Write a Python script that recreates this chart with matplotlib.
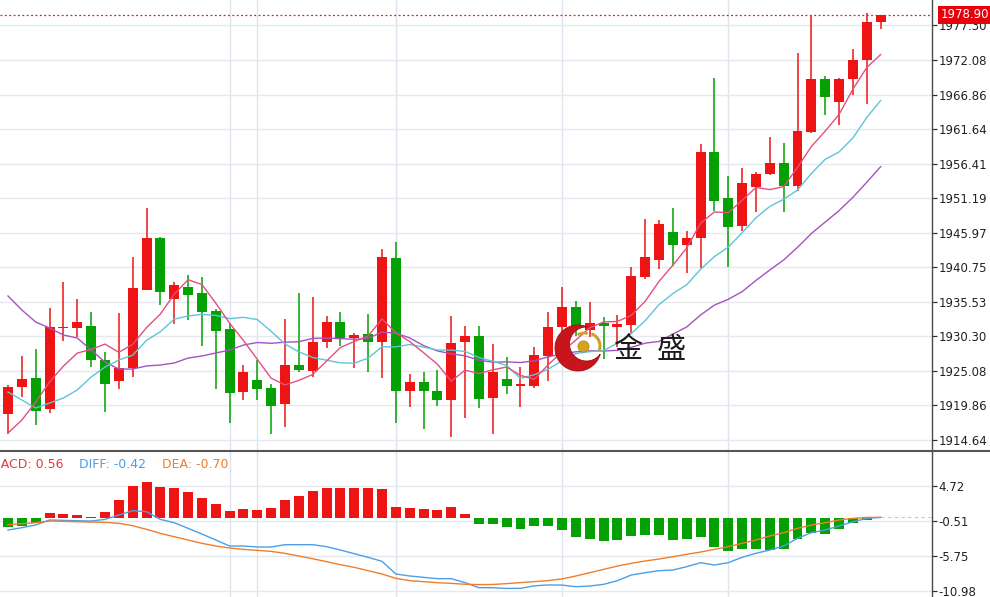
import numpy as np
import pandas as pd
import matplotlib
matplotlib.use("Agg")
import matplotlib.pyplot as plt
from matplotlib.patches import Polygon, Circle, Arc
from matplotlib.transforms import blended_transform_factory

# ---------------- data ----------------
open_ = [1918.57, 1922.70, 1924.06, 1919.33, 1931.52, 1931.57, 1931.92, 1926.69, 1923.51, 1925.57,
         1937.36, 1945.17, 1936.00, 1937.77, 1936.86, 1934.14, 1931.37, 1921.90, 1923.71, 1922.45,
         1920.04, 1926.02, 1925.07, 1929.41, 1932.48, 1930.01, 1930.62, 1929.41, 1942.20, 1922.00,
         1923.45, 1922.09, 1920.64, 1929.50, 1930.41, 1920.94, 1923.81, 1922.88, 1922.85, 1927.38,
         1931.67, 1934.70, 1931.27, 1932.32, 1931.77, 1932.02, 1939.28, 1941.80, 1946.12, 1944.16,
         1945.17, 1958.13, 1951.17, 1946.99, 1952.84, 1954.80, 1956.55, 1953.03, 1961.15, 1969.21,
         1965.68, 1969.21, 1972.08, 1977.78]
high = [1922.95, 1927.34, 1928.39, 1934.59, 1938.52, 1935.95, 1934.03, 1927.94, 1933.84, 1942.30,
        1949.75, 1945.37, 1938.48, 1939.58, 1939.23, 1934.44, 1932.28, 1925.98, 1926.73, 1923.10,
        1932.93, 1936.81, 1936.30, 1933.38, 1933.94, 1930.81, 1933.64, 1943.51, 1944.61, 1924.57,
        1924.96, 1925.22, 1933.43, 1931.87, 1931.87, 1929.15, 1927.23, 1925.63, 1928.65, 1933.99,
        1937.77, 1935.60, 1935.45, 1933.19, 1933.49, 1940.83, 1948.09, 1947.85, 1949.71, 1946.23,
        1959.43, 1969.31, 1954.54, 1955.75, 1955.10, 1960.48, 1959.49, 1973.18, 1978.73, 1969.66,
        1969.31, 1973.69, 1979.23, 1978.93]
low = [1915.55, 1921.14, 1916.91, 1918.72, 1929.65, 1930.21, 1925.67, 1918.92, 1922.35, 1924.21,
       1937.31, 1935.05, 1932.22, 1932.78, 1928.85, 1922.30, 1917.16, 1920.73, 1920.69, 1915.50,
       1916.56, 1924.87, 1924.21, 1928.50, 1928.89, 1925.48, 1924.96, 1924.06, 1917.16, 1919.58,
       1916.26, 1919.82, 1915.14, 1918.01, 1919.52, 1915.50, 1921.59, 1919.67, 1922.45, 1923.60,
       1930.51, 1930.36, 1930.21, 1926.84, 1928.74, 1930.81, 1938.93, 1940.44, 1940.94, 1939.84,
       1940.59, 1949.30, 1940.74, 1946.28, 1949.10, 1954.77, 1949.06, 1952.32, 1961.00, 1963.76,
       1962.25, 1966.79, 1965.38, 1976.76]
close = [1922.65, 1923.91, 1919.07, 1931.77, 1931.67, 1932.48, 1926.69, 1923.10, 1925.57, 1937.66,
         1945.13, 1936.97, 1938.02, 1936.56, 1934.03, 1931.07, 1921.79, 1924.96, 1922.30, 1919.82,
         1925.98, 1925.22, 1929.41, 1932.43, 1930.10, 1930.51, 1929.41, 1942.26, 1922.00, 1923.45,
         1922.09, 1920.73, 1929.35, 1930.41, 1920.84, 1924.92, 1922.85, 1923.00, 1927.53, 1931.77,
         1934.79, 1931.67, 1932.28, 1931.92, 1932.13, 1939.43, 1942.26, 1947.33, 1944.16, 1945.13,
         1958.13, 1950.81, 1946.79, 1953.44, 1954.89, 1956.55, 1953.03, 1961.35, 1969.21, 1966.53,
         1969.16, 1972.08, 1977.78, 1978.90]

# moving-average values before a full window is available
ma5_head = [1915.70, 1917.66, 1920.38, 1923.41]
ma10_head = [1921.90, 1920.69, 1919.48, 1920.23, 1920.99, 1922.20, 1924.16, 1925.67, 1926.73]
ma20_head = [1936.41, 1934.29, 1932.48, 1931.57, 1930.51, 1930.06, 1928.24, 1926.43, 1925.37, 1925.37,
             1925.83, 1925.98, 1926.28, 1927.03, 1927.34, 1927.79, 1928.24, 1929.00, 1929.38]

macd_hist = [-1.43, -1.20, -0.80, 0.65, 0.55, 0.45, 0.15, 0.85, 2.64, 4.73,
             5.38, 4.53, 4.43, 3.89, 2.99, 2.04, 1.00, 1.25, 1.15, 1.49,
             2.64, 3.19, 4.03, 4.43, 4.38, 4.38, 4.38, 4.33, 1.64, 1.49,
             1.25, 1.15, 1.54, 0.55, -0.95, -0.95, -1.44, -1.69, -1.25, -1.30,
             -1.84, -2.84, -3.24, -3.49, -3.39, -2.69, -2.59, -2.64, -3.29, -3.24,
             -2.84, -4.43, -4.93, -4.68, -4.68, -4.78, -4.63, -3.24, -2.34, -2.39,
             -1.69, -0.85, -0.30, 0.00]
diff = [-1.84, -1.49, -1.09, -0.34, -0.40, -0.45, -0.50, -0.25, 0.40, 1.05,
        0.90, -0.25, -0.75, -1.59, -2.44, -3.33, -4.23, -4.23, -4.38, -4.38,
        -4.03, -4.03, -4.03, -4.33, -4.83, -5.38, -5.92, -6.52, -8.41, -8.71,
        -8.91, -9.11, -9.11, -9.71, -10.46, -10.46, -10.57, -10.55, -10.18, -10.05,
        -10.07, -10.31, -10.21, -9.96, -9.41, -8.56, -8.22, -7.92, -7.82, -7.32,
        -6.72, -7.07, -6.72, -5.92, -5.32, -4.83, -4.23, -3.08, -2.24, -1.84,
        -1.24, -0.60, -0.10, 0.05]
dea = [-1.04, -0.89, -0.75, -0.49, -0.54, -0.60, -0.65, -0.70, -0.84, -1.19,
       -1.74, -2.34, -2.84, -3.33, -3.83, -4.23, -4.53, -4.73, -4.88, -5.03,
       -5.33, -5.73, -6.13, -6.57, -7.02, -7.42, -7.92, -8.41, -9.06, -9.41,
       -9.56, -9.71, -9.81, -9.95, -10.00, -9.98, -9.85, -9.70, -9.55, -9.40,
       -9.15, -8.71, -8.22, -7.72, -7.22, -6.82, -6.47, -6.17, -5.83, -5.47,
       -5.13, -4.73, -4.33, -3.83, -3.33, -2.73, -2.24, -1.59, -1.09, -0.75,
       -0.34, -0.10, 0.05, 0.05]

price_ticks = [1914.64, 1919.86, 1925.08, 1930.30, 1935.53, 1940.75, 1945.97,
               1951.19, 1956.41, 1961.64, 1966.86, 1972.08, 1977.30]
macd_ticks = [4.72, -0.51, -5.75, -10.98]
session_lines = [16, 18, 28, 40, 52]
macd_label = "MACD: 0.56"
diff_label = "DIFF: -0.42"
dea_label = "DEA: -0.70"
brand = ["金", "盛"]

# ---------------- style ----------------
RED = "#EE1414"
GREEN = "#04A004"
PINK = "#E2517E"
CYAN = "#5CC6D6"
PURPLE = "#A552C2"
BLUE = "#4C9FE6"
ORANGE = "#F07D2C"
GRID = "#E5E9EE"
VGRID = "#DDE4EE"

W, H = 990, 597
fig = plt.figure(figsize=(W / 100, H / 100), dpi=100)
ax = fig.add_axes([0, (H - 451) / H, 932 / W, 451 / H])
ax2 = fig.add_axes([0, 0, 932 / W, 145 / H])

o = np.array(open_); hi = np.array(high); lo = np.array(low); c = np.array(close)
n = len(c)
x = np.arange(n)
up = c >= o
colors = np.where(up, RED, GREEN)

cs = pd.Series(c)
ma5 = cs.rolling(5).mean().to_numpy(); ma5[:4] = ma5_head
ma10 = cs.rolling(10).mean().to_numpy(); ma10[:9] = ma10_head
ma20 = cs.rolling(20).mean().to_numpy(); ma20[:19] = ma20_head

xlim = (-0.578, 66.71)
for a in (ax, ax2):
    a.set_xlim(*xlim)
    for s in ("top", "left", "bottom"):
        a.spines[s].set_visible(False)
    a.spines["right"].set_color("#4a4a4a")
    a.spines["right"].set_linewidth(1.0)
    a.set_xticks([])
    a.yaxis.tick_right()
    a.tick_params(axis="y", direction="out", length=3.5, width=0.9, color="#333333",
                  pad=1.2, labelsize=8.5, labelcolor="#222222")
    for g in session_lines:
        a.axvline(g, color=VGRID, lw=1.0, zorder=0)
    a.set_facecolor("white")

ax.set_ylim(1912.98, 1981.15)
ax.set_yticks(price_ticks)
ax.set_yticklabels([f"{t:.2f}" for t in price_ticks])
for t in price_ticks:
    ax.axhline(t, color=GRID, lw=1.0, zorder=0)

# candles
ax.vlines(x, lo, hi, colors=colors, lw=1.1, zorder=2)
body_b = np.minimum(o, c)
body_h = np.maximum(np.abs(c - o), 0.22)
ax.bar(x, body_h, bottom=body_b, width=0.72, color=colors, lw=0, zorder=3)

ax.plot(x, ma20, color=PURPLE, lw=1.0, zorder=4)
ax.plot(x, ma10, color=CYAN, lw=1.0, zorder=4)
ax.plot(x, ma5, color=PINK, lw=1.0, zorder=4)

ax.axhline(c[-1], color=RED, lw=0.9, ls=(0, (1.5, 2.0)), zorder=1)
ax.annotate(f"{c[-1]:.2f}", xy=(1.0, c[-1]),
            xycoords=blended_transform_factory(ax.transAxes, ax.transData),
            xytext=(6.5, 0), textcoords="offset points", va="center", ha="left",
            fontsize=8.5, color="white", annotation_clip=False, zorder=20,
            bbox=dict(boxstyle="square,pad=0.22", fc="#E8000B", ec="none"))

# MACD panel
ax2.set_ylim(-11.85, 9.82)
ax2.set_yticks(macd_ticks)
ax2.set_yticklabels([f"{t:.2f}" for t in macd_ticks])
for t in macd_ticks:
    ax2.axhline(t, color=GRID, lw=1.0, zorder=0)
hist = np.array(macd_hist)
ax2.bar(x, hist, width=0.72, color=np.where(hist >= 0, RED, GREEN), lw=0, zorder=2)
ax2.plot(x, diff, color=BLUE, lw=1.0, zorder=3)
ax2.plot(x, dea, color=ORANGE, lw=1.0, zorder=3)
ax2.hlines(diff[-1], x[-1], xlim[1], colors="#A6D2F0", lw=0.8, linestyles=(0, (3, 3)), zorder=1)

# overlay in pixel coordinates for decorations
ov = fig.add_axes([0, 0, 1, 1])
ov.set_xlim(0, W); ov.set_ylim(H, 0); ov.axis("off")
ov.patch.set_alpha(0)
ov.plot([0, W], [451, 451], color="#555555", lw=1.5, solid_capstyle="butt")

ov.text(63, 464, macd_label, color="#E8383D", fontsize=9, ha="right", va="center")
ov.text(79, 464, diff_label, color=BLUE, fontsize=9, ha="left", va="center")
ov.text(162, 464, dea_label, color=ORANGE, fontsize=9, ha="left", va="center")

# logo: crescent + gold ball
cx, cy, R = 578.0, 348.0, 23.0
ix, iy, r = 586.5, 344.0, 17.0
t = np.linspace(0, 2 * np.pi, 1500)
op = np.c_[cx + R * np.cos(t), cy + R * np.sin(t)]
keep_o = np.hypot(op[:, 0] - ix, op[:, 1] - iy) > r
ip = np.c_[ix + r * np.cos(t), iy + r * np.sin(t)]
keep_i = np.hypot(ip[:, 0] - cx, ip[:, 1] - cy) < R
cres = np.vstack([op[keep_o], ip[keep_i][::-1]])
ov.add_patch(Polygon(cres, closed=True, fc="#C8151C", ec="#9E0E12", lw=0.6, zorder=5))
ov.add_patch(Circle((583.5, 346.5), 5.6, fc="#D6A21E", ec="#B9860F", lw=0.5, zorder=6))
ov.add_patch(Arc((587, 346), 26, 26, theta1=-70, theta2=20, color="#D2A02A", lw=2.2, zorder=6))
ov.add_patch(Arc((584, 344), 22, 22, theta1=235, theta2=290, color="#D2A02A", lw=2.0, zorder=6))

cjk = ["Noto Sans CJK SC", "DejaVu Sans"]
ov.text(628, 350, brand[0], family=cjk, fontsize=21, color="#1c1c1c", ha="center", va="center", zorder=7)
ov.text(671, 350, brand[1], family=cjk, fontsize=21, color="#1c1c1c", ha="center", va="center", zorder=7)

fig.savefig("out.png", dpi=100)
